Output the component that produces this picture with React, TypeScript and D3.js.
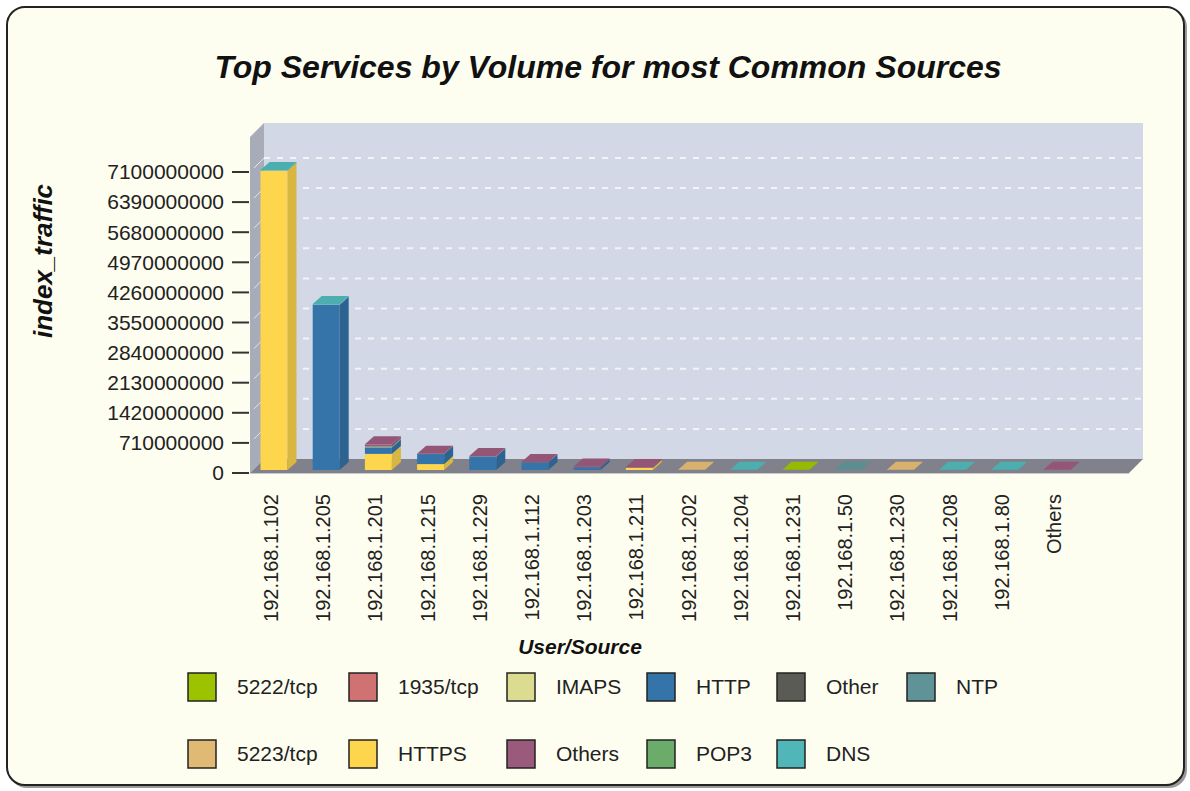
import React from "react";
import * as d3 from "d3";

const categories = [
  "192.168.1.102", "192.168.1.205", "192.168.1.201", "192.168.1.215",
  "192.168.1.229", "192.168.1.112", "192.168.1.203", "192.168.1.211",
  "192.168.1.202", "192.168.1.204", "192.168.1.231", "192.168.1.50",
  "192.168.1.230", "192.168.1.208", "192.168.1.80", "Others",
];

// legend order (row-major, 6 per row)
const seriesNames = ["5222/tcp", "1935/tcp", "IMAPS", "HTTP", "Other", "NTP", "5223/tcp", "HTTPS", "Others", "POP3", "DNS"];
const seriesColors = ["#9cc200", "#d17272", "#dcdc90", "#3474a9", "#5b5b56", "#5f9397", "#e0ba74", "#fdd64e", "#9a5a7b", "#6cac6b", "#50b6b8"];
// bottom-to-top stacking order
const stackOrder = ["HTTPS", "HTTP", "POP3", "IMAPS", "1935/tcp", "5222/tcp", "5223/tcp", "NTP", "Other", "Others", "DNS"];

const httpsValues =  [7060e6, 0, 380e6, 140e6, 0, 0, 0, 55e6, 0, 0, 0, 0, 0, 0, 0, 0];
const httpValues =   [0, 3900e6, 150e6, 236e6, 320e6, 180e6, 65e6, 0, 0, 0, 0, 0, 0, 0, 0, 0];
const pop3Values =   [0, 0, 25e6, 0, 0, 0, 0, 0, 0, 0, 0, 0, 0, 0, 0, 0];
const imapsValues =  [0, 0, 0, 0, 0, 0, 0, 0, 0, 0, 0, 0, 0, 0, 0, 0];
const tcp1935Values = [0, 0, 0, 0, 0, 0, 0, 0, 0, 0, 0, 0, 0, 0, 0, 0];
const tcp5222Values = [0, 0, 0, 0, 0, 0, 0, 0, 0, 0, 3e6, 0, 0, 0, 0, 0];
const tcp5223Values = [0, 0, 0, 0, 0, 0, 0, 0, 3e6, 0, 0, 0, 3e6, 0, 0, 0];
const ntpValues =    [0, 0, 0, 0, 0, 0, 0, 0, 0, 0, 0, 3e6, 0, 0, 0, 0];
const otherValues =  [0, 0, 0, 0, 0, 0, 0, 0, 0, 0, 0, 0, 0, 0, 0, 0];
const othersValues = [0, 0, 50e6, 10e6, 10e6, 10e6, 15e6, 15e6, 0, 0, 0, 0, 0, 0, 0, 3e6];
const dnsValues =    [15e6, 15e6, 0, 0, 0, 0, 0, 0, 0, 3e6, 0, 0, 0, 3e6, 3e6, 0];

const yTicks = [0, 710e6, 1420e6, 2130e6, 2840e6, 3550e6, 4260e6, 4970e6, 5680e6, 6390e6, 7100e6];

const seriesValues: Record<string, number[]> = {
  "HTTPS": httpsValues, "HTTP": httpValues, "POP3": pop3Values, "IMAPS": imapsValues,
  "1935/tcp": tcp1935Values, "5222/tcp": tcp5222Values, "5223/tcp": tcp5223Values,
  "NTP": ntpValues, "Other": otherValues, "Others": othersValues, "DNS": dnsValues,
};

const W = 1190, H = 791;
const FONT = "'Liberation Sans', Arial, Helvetica, sans-serif";

// layout
const plotLeft = 250, plotRight = 1129, yZero = 473, yTopVal = 172, plotTop = 137;
const DX = 14, DY = -14;
const barW = 27, bdx = 9, bdy = -8, offX = 3, offY = -3;
const legendCols = [188, 349, 507, 647, 777, 907];
const legendRows = [673, 740];

export default function App() {
  const y = d3.scaleLinear().domain([0, 7100e6]).range([yZero, yTopVal]);
  const x = d3.scaleBand<string>().domain(categories).range([244.9, 244.9 + 52.2 * categories.length]).padding(0);
  const colorOf = (name: string) => seriesColors[seriesNames.indexOf(name)];

  const table = categories.map((c, i) => {
    const row: any = { cat: c };
    stackOrder.forEach((s) => (row[s] = seriesValues[s][i]));
    return row;
  });
  const stacked = d3.stack<any>().keys(stackOrder)(table);

  const bars: JSX.Element[] = [];
  categories.forEach((c, i) => {
    const cx = (x(c) as number) + x.bandwidth() / 2 + offX;
    const x0 = cx - barW / 2;
    let topIdx = -1;
    stacked.forEach((layer, k) => {
      if (layer[i][1] - layer[i][0] > 0) topIdx = k;
    });
    stacked.forEach((layer, k) => {
      const [v0, v1] = layer[i];
      if (v1 - v0 <= 0) return;
      const col = d3.color(colorOf(layer.key))!;
      const side = col.darker(0.45).toString();
      const top = col.darker(0.12).toString();
      const yt = y(v1) + offY;
      const yb = y(v0) + offY;
      bars.push(
        <g key={`b${i}-${k}`}>
          <rect x={x0} y={yt} width={barW} height={Math.max(0, yb - yt)} fill={col.toString()} />
          <polygon
            points={`${x0 + barW},${yt} ${x0 + barW + bdx},${yt + bdy} ${x0 + barW + bdx},${yb + bdy} ${x0 + barW},${yb}`}
            fill={side}
          />
          {k === topIdx && (
            <polygon
              points={`${x0},${yt} ${x0 + bdx},${yt + bdy} ${x0 + barW + bdx},${yt + bdy} ${x0 + barW},${yt}`}
              fill={top}
            />
          )}
        </g>
      );
    });
  });

  return (
    <svg width={W} height={H} style={{ position: "absolute", left: 0, top: 0 }} fontFamily={FONT}>
      {/* frame */}
      <rect x={9} y={9} width={1178} height={779} rx={18} fill="#9a9a9a" />
      <rect x={7} y={7} width={1177} height={778} rx={18} fill="#fefef0" stroke="#222" strokeWidth={2} />

      <text x={608} y={78} textAnchor="middle" fontSize={32} fontWeight="bold" fontStyle="italic" fill="#111">
        Top Services by Volume for most Common Sources
      </text>

      {/* back wall */}
      <rect x={plotLeft + DX} y={plotTop + DY} width={plotRight - plotLeft} height={yZero - plotTop} fill="#d3d8e6" />
      {/* left wall */}
      <polygon
        points={`${plotLeft},${plotTop} ${plotLeft + DX},${plotTop + DY} ${plotLeft + DX},${yZero + DY} ${plotLeft},${yZero}`}
        fill="#a8abb8"
      />
      {/* floor */}
      <polygon
        points={`${plotLeft},${yZero} ${plotLeft + DX},${yZero + DY} ${plotRight + DX},${yZero + DY} ${plotRight},${yZero}`}
        fill="#80818a"
      />
      <line x1={plotLeft} x2={plotRight} y1={yZero + 0.5} y2={yZero + 0.5} stroke="#c8c9cc" strokeWidth={1} />

      {/* grid */}
      {yTicks.filter((t) => t > 0).map((t) => (
        <g key={`g${t}`}>
          <line x1={plotLeft + DX} x2={plotRight + DX} y1={y(t) + DY} y2={y(t) + DY} stroke="#f3f4f8" strokeWidth={2} strokeDasharray="6,7" />
          <line x1={plotLeft + 4} x2={plotLeft + DX} y1={y(t) - 4} y2={y(t) + DY} stroke="#e4e6ee" strokeWidth={1} />
        </g>
      ))}

      {/* y axis ticks */}
      {yTicks.map((t) => (
        <g key={`t${t}`}>
          <line x1={232} x2={249} y1={y(t)} y2={y(t)} stroke="#333" strokeWidth={2} />
          <text x={224} y={y(t)} dy="0.35em" textAnchor="end" fontSize={21} fill="#222">
            {d3.format("d")(t)}
          </text>
        </g>
      ))}

      {bars}

      {/* x labels */}
      {categories.map((c) => {
        const cx = (x(c) as number) + x.bandwidth() / 2;
        return (
          <text key={`x${c}`} transform={`translate(${cx},494) rotate(-90)`} textAnchor="end" dy="0.35em" fontSize={20} fill="#222">
            {c}
          </text>
        );
      })}

      <text x={580} y={654} textAnchor="middle" fontSize={21} fontWeight="bold" fontStyle="italic" fill="#111">
        User/Source
      </text>
      <text transform="translate(52,261) rotate(-90)" textAnchor="middle" fontSize={26} fontWeight="bold" fontStyle="italic" fill="#111">
        index_traffic
      </text>

      {/* legend */}
      {seriesNames.map((s, i) => {
        const col = i % 6, row = Math.floor(i / 6);
        const lx = legendCols[col], ly = legendRows[row];
        return (
          <g key={`l${s}`}>
            <rect x={lx} y={ly} width={28} height={28} fill={seriesColors[i]} stroke="#222" strokeWidth={1.5} />
            <text x={lx + 49} y={ly + 14} dy="0.35em" fontSize={21} fill="#222">
              {s}
            </text>
          </g>
        );
      })}
    </svg>
  );
}
